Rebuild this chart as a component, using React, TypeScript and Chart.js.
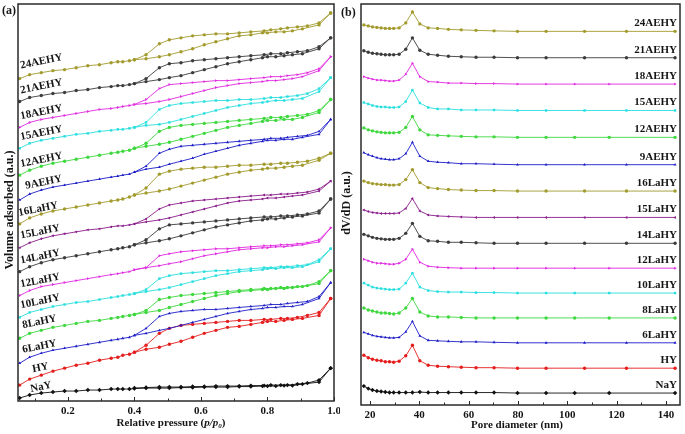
import React, { useEffect, useRef } from "react";
import { Chart, registerables } from "chart.js";

Chart.register(...registerables);

const FONT = '"Liberation Serif", "Times New Roman", serif';

// ---------- Panel (a): N2 isotherms ----------
const adsX = [0.055, 0.085, 0.12, 0.155, 0.19, 0.225, 0.26, 0.295, 0.33, 0.35, 0.365, 0.385, 0.40, 0.435, 0.475, 0.505, 0.54, 0.575, 0.61, 0.645, 0.68, 0.715, 0.75, 0.785, 0.80, 0.825, 0.85, 0.875, 0.905, 0.955, 0.99];
const desX = [0.99, 0.955, 0.92, 0.89, 0.86, 0.84, 0.81, 0.79, 0.75, 0.715, 0.68, 0.645, 0.61, 0.575, 0.54, 0.505, 0.475, 0.435, 0.40];

const ads24AEHY = [324, 328, 330, 332, 333, 335, 337, 338, 340, 341, 341, 342, 343, 344, 346, 348, 351, 354, 358, 361, 364, 367, 368, 370, 370, 371, 371, 372, 374, 378, 390];
const des24AEHY = [390, 380, 377, 376, 375, 374, 373, 372, 371, 370, 369, 369, 368, 367, 365, 363, 359, 348, 343];
const ads21AEHY = [301, 305, 307, 309, 310, 312, 313, 315, 316, 317, 317, 318, 319, 321, 323, 325, 327, 330, 333, 336, 339, 341, 343, 345, 346, 346, 347, 348, 349, 354, 365];
const des21AEHY = [365, 356, 352, 351, 350, 349, 349, 348, 347, 346, 345, 344, 343, 342, 340, 339, 335, 324, 319];
const ads18AEHY = [275, 280, 283, 285, 287, 289, 291, 293, 294, 295, 296, 297, 298, 299, 301, 303, 306, 309, 312, 315, 317, 319, 320, 321, 322, 322, 323, 324, 326, 332, 346];
const des18AEHY = [346, 334, 330, 328, 327, 326, 326, 325, 324, 323, 322, 322, 321, 320, 319, 318, 314, 303, 298];
const ads15AEHY = [254, 259, 262, 264, 266, 268, 269, 271, 272, 273, 273, 274, 275, 277, 278, 280, 283, 286, 289, 292, 295, 297, 299, 300, 301, 302, 302, 303, 304, 311, 325];
const des15AEHY = [325, 314, 309, 307, 306, 305, 305, 304, 303, 303, 302, 302, 301, 300, 299, 297, 293, 280, 275];
const ads12AEHY = [227, 232, 236, 239, 241, 243, 245, 247, 249, 250, 251, 252, 254, 256, 258, 260, 263, 266, 269, 272, 275, 277, 279, 281, 282, 282, 283, 283, 285, 290, 303];
const des12AEHY = [303, 292, 288, 287, 286, 285, 285, 284, 283, 282, 281, 280, 279, 278, 277, 275, 271, 259, 254];
const ads9AEHY = [202, 208, 212, 215, 217, 219, 221, 223, 225, 226, 227, 228, 230, 233, 235, 238, 241, 244, 248, 251, 254, 257, 259, 261, 262, 262, 263, 263, 265, 268, 283];
const des9AEHY = [283, 271, 267, 266, 265, 264, 264, 263, 262, 261, 260, 259, 258, 257, 256, 253, 249, 236, 230];
const ads16LaHY = [178, 184, 188, 191, 193, 195, 197, 199, 201, 202, 203, 205, 207, 209, 211, 213, 216, 219, 222, 225, 228, 230, 232, 233, 234, 234, 235, 236, 237, 242, 249];
const des16LaHY = [249, 244, 241, 240, 239, 239, 238, 238, 237, 237, 236, 235, 235, 234, 233, 231, 228, 214, 207];
const ads15LaHY = [154, 159, 163, 166, 168, 170, 172, 173, 175, 176, 176, 177, 178, 180, 182, 184, 187, 190, 193, 196, 199, 201, 202, 203, 204, 204, 205, 206, 207, 211, 221];
const des15LaHY = [221, 213, 210, 209, 208, 208, 207, 207, 206, 205, 204, 203, 202, 201, 199, 197, 193, 183, 178];
const ads14LaHY = [130, 135, 139, 142, 144, 146, 148, 150, 152, 153, 154, 155, 157, 159, 161, 163, 166, 169, 172, 175, 177, 179, 181, 182, 183, 183, 184, 185, 186, 189, 203];
const des14LaHY = [203, 191, 188, 187, 186, 186, 185, 185, 184, 183, 182, 181, 180, 179, 178, 177, 173, 162, 157];
const ads12LaHY = [106, 111, 115, 117, 119, 121, 123, 125, 127, 128, 129, 130, 132, 134, 136, 138, 140, 143, 146, 148, 150, 152, 153, 154, 154, 155, 155, 156, 157, 160, 174];
const des12LaHY = [174, 162, 159, 158, 157, 157, 156, 156, 155, 154, 153, 153, 152, 151, 150, 148, 146, 134, 132];
const ads10LaHY = [84, 89, 92, 95, 97, 99, 100, 102, 104, 105, 106, 107, 108, 110, 112, 114, 117, 120, 123, 126, 128, 130, 131, 132, 133, 133, 134, 134, 135, 140, 153];
const des10LaHY = [153, 142, 137, 136, 135, 135, 134, 134, 133, 132, 131, 131, 130, 129, 128, 126, 123, 112, 108];
const ads8LaHY = [63, 68, 71, 74, 76, 78, 80, 81, 83, 84, 85, 86, 87, 89, 91, 94, 97, 100, 103, 106, 108, 110, 111, 112, 112, 113, 113, 114, 115, 118, 131];
const des8LaHY = [131, 120, 116, 115, 114, 114, 113, 113, 112, 111, 110, 109, 108, 107, 106, 104, 102, 91, 87];
const ads6LaHY = [38, 44, 48, 51, 53, 55, 57, 59, 61, 62, 63, 64, 66, 68, 71, 73, 76, 79, 82, 85, 88, 90, 92, 93, 94, 94, 95, 95, 97, 103, 119];
const des6LaHY = [119, 105, 100, 99, 98, 97, 97, 96, 95, 94, 93, 92, 92, 91, 90, 88, 85, 73, 66];
const adsHY = [16, 22, 26, 30, 33, 36, 38, 41, 43, 44, 46, 47, 49, 52, 54, 57, 60, 64, 68, 71, 74, 75, 77, 79, 80, 80, 81, 82, 83, 86, 103];
const desHY = [103, 89, 86, 84, 83, 83, 82, 82, 81, 81, 80, 79, 78, 77, 76, 73, 68, 56, 49];
const adsNaY = [3, 6, 8, 9, 10, 10, 11, 11, 12, 12, 12, 12, 12.5, 13, 13, 13, 13.5, 13.5, 14, 14, 14, 14.5, 14.5, 15, 15, 15, 15.5, 15.5, 17, 19, 33];
const desNaY = [33, 21, 18, 17, 16, 16, 16, 15.5, 15.5, 15, 15, 15, 14.5, 14.5, 14, 14, 14, 13.5, 13];

const ticksA = [0.2, 0.4, 0.6, 0.8, 1.0];
const minorTicksA = [0.1, 0.3, 0.5, 0.7, 0.9];

// ---------- Panel (b): pore size distributions ----------
const poreXA = [17.5, 19.3, 21, 22.8, 24.5, 26.2, 27.9, 29.6, 31.8, 34.5, 37.2, 40.2, 43.6, 47.4, 51.8, 57, 63, 70.3, 79.8, 91.4, 107, 124, 143.7];
const poreXB = [17.5, 19.3, 21, 22.8, 24.5, 26.2, 27.9, 29.6, 31.8, 34.5, 37.2, 40.2, 43.6, 47.4, 51.8, 57, 63, 70.3, 79.8, 91.4, 103, 117, 143.7];

const psd24AEHY = [382, 381, 380, 379.5, 379, 378.5, 378.5, 378.5, 379, 384, 395, 383, 379, 378.5, 377.5, 377, 376.5, 376, 375.5, 375.5, 375.5, 375.5, 375.5];
const psd21AEHY = [356, 354.5, 353.5, 353, 352.5, 352, 352, 352, 352.5, 357.5, 369, 356.5, 352.5, 351.5, 350.5, 350, 349.5, 349.5, 349, 349, 349, 349, 349];
const psd18AEHY = [330, 328.5, 327.5, 326.5, 326.5, 326, 325.5, 325.5, 326.5, 332.5, 343.5, 330, 325, 324.5, 323.5, 323.5, 323, 323, 322.5, 322.5, 322.5, 322.5, 322.5];
const psd15AEHY = [304, 302.5, 301, 300, 299.5, 299.5, 299, 299, 299.5, 305, 316.5, 303.5, 299, 297.5, 297.5, 296.5, 296.5, 296.5, 296, 296, 296, 296, 296];
const psd12AEHY = [278.5, 276.5, 275.5, 274.5, 274, 273.5, 273.5, 273.5, 274, 279, 290, 276.5, 271.5, 271, 270.5, 270, 269.5, 269.5, 269, 269, 269, 269, 269];
const psd9AEHY = [253.5, 251.5, 250, 248.5, 247.5, 247, 246.5, 246.5, 247.5, 252.5, 264, 250, 245, 244, 243.5, 242.5, 242.5, 242, 241.5, 241.5, 241.5, 241.5, 241.5];
const psd16LaHY = [225, 223.5, 222.5, 222, 221.5, 221.5, 221, 221, 221.5, 226.5, 236.5, 223.5, 218.5, 217.5, 216.5, 216, 215.5, 215.5, 215, 215, 215, 215, 215];
const psd15LaHY = [196, 194.5, 193.5, 193, 192.5, 192.5, 192.5, 192.5, 193, 197.5, 207.5, 195, 191, 190, 189.5, 189, 188.5, 188.5, 188.5, 188.5, 188.5, 188.5, 188.5];
const psd14LaHY = [171.5, 170, 168.5, 167.5, 167, 166.5, 166.5, 166.5, 167.5, 172.5, 182.5, 169.5, 165, 164.5, 163.5, 163.5, 163, 162.5, 162.5, 162.5, 162.5, 162.5, 162.5];
const psd12LaHY = [146.5, 145, 143.5, 142.5, 142.5, 142, 141.5, 141.5, 142.5, 146.5, 156.5, 143.5, 139.5, 138.5, 138, 137.5, 137.5, 137.5, 137.5, 137.5, 137.5, 137.5, 137.5];
const psd10LaHY = [122.5, 120.5, 118.5, 117.5, 117, 116.5, 116, 116, 116.5, 122.5, 132.5, 118.5, 115, 114, 113.5, 113.5, 113, 113, 112.5, 112.5, 112.5, 112.5, 112.5];
const psd8LaHY = [97.5, 95.5, 94.5, 93.5, 92.5, 92.5, 92, 91.5, 92.5, 97.5, 107, 93.5, 89.5, 88.5, 88.5, 88, 87.5, 87.5, 87.5, 87.5, 87.5, 87.5, 87.5];
const psd6LaHY = [73, 71.5, 70, 69, 68.5, 68, 67.5, 67.5, 68, 73.5, 84, 69.5, 65, 64.5, 64, 63.5, 63.5, 63, 62.5, 62.5, 62.5, 62.5, 62.5];
const psdHY = [50, 47.5, 46, 45, 44.5, 43.5, 43.5, 43, 44, 49.5, 60, 44.5, 40, 39, 38.5, 38, 37.5, 37.5, 37, 37, 37, 37, 37];
const psdNaY = [19, 16.5, 15, 14, 13.5, 13, 12.5, 12.5, 12.5, 12.5, 12.5, 13, 12.5, 12.5, 12.5, 12.5, 12.5, 12.5, 12, 12, 12, 12, 12];

const ticksB = [20, 40, 60, 80, 100, 120, 140];
const minorTicksB = [30, 50, 70, 90, 110, 130];

// ---------- Series ----------
const sampleNames = ["24AEHY", "21AEHY", "18AEHY", "15AEHY", "12AEHY", "9AEHY", "16LaHY", "15LaHY", "14LaHY", "12LaHY", "10LaHY", "8LaHY", "6LaHY", "HY", "NaY"];
const isoAds = [ads24AEHY, ads21AEHY, ads18AEHY, ads15AEHY, ads12AEHY, ads9AEHY, ads16LaHY, ads15LaHY, ads14LaHY, ads12LaHY, ads10LaHY, ads8LaHY, ads6LaHY, adsHY, adsNaY];
const isoDes = [des24AEHY, des21AEHY, des18AEHY, des15AEHY, des12AEHY, des9AEHY, des16LaHY, des15LaHY, des14LaHY, des12LaHY, des10LaHY, des8LaHY, des6LaHY, desHY, desNaY];
const psdY = [psd24AEHY, psd21AEHY, psd18AEHY, psd15AEHY, psd12AEHY, psd9AEHY, psd16LaHY, psd15LaHY, psd14LaHY, psd12LaHY, psd10LaHY, psd8LaHY, psd6LaHY, psdHY, psdNaY];
const psdX = [poreXA, poreXA, poreXB, poreXA, poreXB, poreXA, poreXA, poreXA, poreXA, poreXB, poreXB, poreXB, poreXA, poreXA, poreXB];

const lineColors = ["#a39b2e", "#3c3c3c", "#e028e0", "#28dede", "#3fd83f", "#1e1ec8", "#a39b2e", "#8a1c8a", "#3c3c3c", "#e028e0", "#28dede", "#3fd83f", "#1e1ec8", "#e41d1d", "#111111"];
const pointStyles = ["circle", "circle", "triangle", "rect", "circle", "triangle", "circle", "triangle", "circle", "triangle", "rect", "circle", "triangle", "circle", "rectRot"];
const pointRotations = [0, 0, 90, 0, 0, 0, 0, -90, 0, 90, 0, 0, 0, 0, 0];

// label placement (layout only)
const labelStartA = [0.056, 0.056, 0.056, 0.056, 0.056, 0.071, 0.05, 0.056, 0.056, 0.056, 0.056, 0.062, 0.062, 0.092, 0.086];
const labelLiftA = [10, 8, 8, 8, 8, 8, 8, 9, 8, 8, 9, 9, 9, 6, 3];

function interp(xs: number[], ys: number[], x: number) {
  if (x <= xs[0]) return ys[0];
  for (let i = 0; i < xs.length - 1; i++) {
    if (x >= xs[i] && x <= xs[i + 1]) {
      const t = (x - xs[i]) / (xs[i + 1] - xs[i]);
      return ys[i] + t * (ys[i + 1] - ys[i]);
    }
  }
  return ys[ys.length - 1];
}

function drawFrameAndTicks(chart: any, major: number[], minor: number[]) {
  const { ctx, chartArea: ca, scales } = chart;
  const xs = scales.x;
  ctx.save();
  ctx.strokeStyle = "#2a2a2a";
  ctx.lineWidth = 1.5;
  ctx.strokeRect(ca.left, ca.top, ca.right - ca.left, ca.bottom - ca.top);
  ctx.lineWidth = 1;
  ctx.beginPath();
  for (const v of major) {
    const px = Math.round(xs.getPixelForValue(v)) + 0.5;
    ctx.moveTo(px, ca.bottom);
    ctx.lineTo(px, ca.bottom - 4);
  }
  for (const v of minor) {
    const px = Math.round(xs.getPixelForValue(v)) + 0.5;
    ctx.moveTo(px, ca.bottom);
    ctx.lineTo(px, ca.bottom - 2.5);
  }
  ctx.stroke();
  ctx.restore();
}

function drawRuns(ctx: any, runs: { t: string; f: string; dy: number }[], cx: number, cy: number) {
  let total = 0;
  const widths: number[] = [];
  for (const r of runs) {
    ctx.font = r.f;
    const w = ctx.measureText(r.t).width;
    widths.push(w);
    total += w;
  }
  let x = cx - total / 2;
  ctx.textAlign = "left";
  runs.forEach((r, i) => {
    ctx.font = r.f;
    ctx.fillText(r.t, x, cy + r.dy);
    x += widths[i];
  });
}

const panelAPlugin = {
  id: "panelA",
  afterDraw(chart: any) {
    const { ctx, scales } = chart;
    drawFrameAndTicks(chart, ticksA, minorTicksA);
    const xs = scales.x;
    const ys = scales.y;
    ctx.save();
    ctx.fillStyle = "#151515";
    ctx.font = `bold 11px ${FONT}`;
    ctx.textBaseline = "alphabetic";
    ctx.textAlign = "left";
    sampleNames.forEach((name, i) => {
      const lx = labelStartA[i];
      const yv = interp(adsX, isoAds[i], lx);
      const px = xs.getPixelForValue(lx);
      const py = ys.getPixelForValue(yv);
      ctx.save();
      ctx.translate(px + 1, py - labelLiftA[i]);
      ctx.rotate(-0.2);
      ctx.fillText(name, 0, 0);
      ctx.restore();
    });
    ctx.font = `bold 12px ${FONT}`;
    ctx.fillText("(a)", 2, 14);
    ctx.textBaseline = "middle";
    drawRuns(
      ctx,
      [
        { t: "Relative pressure (", f: `bold 11px ${FONT}`, dy: 0 },
        { t: "p/p", f: `italic bold 11px ${FONT}`, dy: 0 },
        { t: "0", f: `italic bold 7px ${FONT}`, dy: 3 },
        { t: ")", f: `bold 11px ${FONT}`, dy: 0 },
      ],
      171,
      423
    );
    ctx.save();
    ctx.translate(10, 210);
    ctx.rotate(-Math.PI / 2);
    ctx.textAlign = "center";
    ctx.textBaseline = "middle";
    ctx.font = `bold 12px ${FONT}`;
    ctx.fillText("Volume adsorbed (a.u.)", 0, 0);
    ctx.restore();
    ctx.restore();
  },
};

const panelBPlugin = {
  id: "panelB",
  afterDraw(chart: any) {
    const { ctx, scales, chartArea: ca } = chart;
    drawFrameAndTicks(chart, ticksB, minorTicksB);
    const ys = scales.y;
    ctx.save();
    ctx.fillStyle = "#151515";
    ctx.font = `bold 11px ${FONT}`;
    ctx.textAlign = "right";
    ctx.textBaseline = "alphabetic";
    sampleNames.forEach((name, i) => {
      const arr = psdY[i];
      const py = ys.getPixelForValue(arr[arr.length - 1]);
      ctx.fillText(name, ca.right - 3, py - 5);
    });
    ctx.textAlign = "left";
    ctx.font = `bold 12px ${FONT}`;
    ctx.fillText("(b)", 1, 16);
    ctx.textBaseline = "middle";
    drawRuns(ctx, [{ t: "Pore diameter (nm)", f: `bold 11px ${FONT}`, dy: 0 }], 177, 425);
    ctx.save();
    ctx.translate(7, 203);
    ctx.rotate(-Math.PI / 2);
    ctx.textAlign = "center";
    ctx.textBaseline = "middle";
    ctx.font = `bold 12px ${FONT}`;
    ctx.fillText("dV/dD (a.u.)", 0, 0);
    ctx.restore();
    ctx.restore();
  },
};

function baseDataset(i: number, data: { x: number; y: number }[]) {
  return {
    label: sampleNames[i],
    data,
    showLine: true,
    borderColor: lineColors[i],
    backgroundColor: lineColors[i],
    borderWidth: 0.9,
    pointRadius: pointStyles[i] === "rectRot" ? 2.2 : 1.7,
    pointStyle: pointStyles[i],
    pointRotation: pointRotations[i],
    pointBorderWidth: 0,
    pointBackgroundColor: lineColors[i],
  };
}

function tickFont() {
  return { family: FONT, size: 11, weight: "bold" as const };
}

export default function App() {
  const refA = useRef<HTMLCanvasElement>(null);
  const refB = useRef<HTMLCanvasElement>(null);

  useEffect(() => {
    if (!refA.current || !refB.current) return;
    const chartA = new Chart(refA.current, {
      type: "scatter",
      data: {
        datasets: sampleNames.map((_, i) =>
          baseDataset(i, [
            ...adsX.map((x, j) => ({ x, y: isoAds[i][j] })),
            ...desX.map((x, j) => ({ x, y: isoDes[i][j] })),
          ])
        ),
      },
      options: {
        responsive: false,
        animation: false,
        devicePixelRatio: 1,
        layout: { padding: { left: 18, right: 6, top: 2, bottom: 0 } },
        plugins: { legend: { display: false }, tooltip: { enabled: false } },
        scales: {
          x: {
            type: "linear",
            min: 0.05,
            max: 1.0,
            grid: { display: false, drawTicks: false, tickLength: 0 },
            border: { display: false },
            afterBuildTicks: (s: any) => {
              s.ticks = ticksA.map((v) => ({ value: v }));
            },
            afterFit: (s: any) => {
              s.height = 33;
              s.paddingLeft = 0;
              s.paddingRight = 0;
            },
            ticks: {
              font: tickFont(),
              color: "#151515",
              padding: 4,
              maxRotation: 0,
              autoSkip: false,
              callback: (v: any) => Number(v).toFixed(1),
            },
          },
          y: { display: false, min: 0, max: 399 },
        },
      } as any,
      plugins: [panelAPlugin],
    });

    const chartB = new Chart(refB.current, {
      type: "scatter",
      data: {
        datasets: sampleNames.map((_, i) =>
          baseDataset(
            i,
            psdX[i].map((x, j) => ({ x, y: psdY[i][j] }))
          )
        ),
      },
      options: {
        responsive: false,
        animation: false,
        devicePixelRatio: 1,
        layout: { padding: { left: 21, right: 5, top: 2, bottom: 0 } },
        plugins: { legend: { display: false }, tooltip: { enabled: false } },
        scales: {
          x: {
            type: "linear",
            min: 16.35,
            max: 145.7,
            grid: { display: false, drawTicks: false, tickLength: 0 },
            border: { display: false },
            afterBuildTicks: (s: any) => {
              s.ticks = ticksB.map((v) => ({ value: v }));
            },
            afterFit: (s: any) => {
              s.height = 29;
              s.paddingLeft = 0;
              s.paddingRight = 0;
            },
            ticks: {
              font: tickFont(),
              color: "#151515",
              padding: 4,
              maxRotation: 0,
              autoSkip: false,
              callback: (v: any) => String(v),
            },
          },
          y: { display: false, min: 0, max: 403 },
        },
      } as any,
      plugins: [panelBPlugin],
    });

    return () => {
      chartA.destroy();
      chartB.destroy();
    };
  }, []);

  return (
    <div
      style={{
        position: "fixed",
        left: 0,
        top: 0,
        width: 685,
        height: 434,
        background: "#ffffff",
        overflow: "hidden",
      }}
    >
      <canvas
        ref={refA}
        width={340}
        height={434}
        style={{ position: "absolute", left: 0, top: 0, width: 340, height: 434 }}
      />
      <canvas
        ref={refB}
        width={345}
        height={434}
        style={{ position: "absolute", left: 340, top: 0, width: 345, height: 434 }}
      />
    </div>
  );
}
